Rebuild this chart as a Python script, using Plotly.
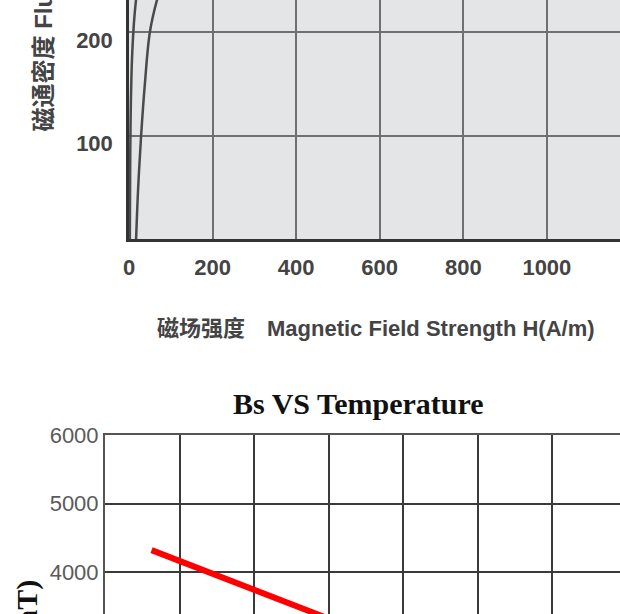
import plotly.graph_objects as go

# ---- Top chart: B-H magnetisation curves ----
h_curve_a = [2, 2.5, 3, 4, 6, 9, 13, 19]
b_curve_a = [0, 40, 80, 120, 160, 190, 215, 240]
h_curve_b = [17, 22, 29, 38, 50, 67, 90]
b_curve_b = [0, 50, 100, 150, 200, 231, 260]
h_ticks = [0, 200, 400, 600, 800, 1000, 1200]
b_ticks = [100, 200, 300]

# ---- Bottom chart: Bs vs temperature ----
temp_c = [25, 100, 130]
bs_val = [4320, 3530, 3215]
bs_ticks = [4000, 5000, 6000]

W, H = 620, 614

def px_x(p):
    return p / W

def px_y(p):
    return (H - p) / H

fig = go.Figure()
fig.add_trace(go.Scatter(x=h_curve_a, y=b_curve_a, mode='lines',
                         line=dict(color='#4a4a4a', width=2.5, shape='spline'),
                         xaxis='x', yaxis='y', showlegend=False))
fig.add_trace(go.Scatter(x=h_curve_b, y=b_curve_b, mode='lines',
                         line=dict(color='#4a4a4a', width=2.5, shape='spline'),
                         xaxis='x', yaxis='y', showlegend=False))
fig.add_trace(go.Scatter(x=temp_c, y=bs_val, mode='lines',
                         line=dict(color='#ff0000', width=6),
                         xaxis='x2', yaxis='y2', showlegend=False))

top_font = dict(family='Liberation Sans, Arial, sans-serif', size=22, color='#444444', weight='bold')
bot_tick_font = dict(family='Liberation Sans, Arial, sans-serif', size=22, color='#5a5a5a')

fig.update_layout(
    template='none',
    width=W, height=H,
    margin=dict(l=0, r=0, t=0, b=0, pad=0, autoexpand=False),
    paper_bgcolor='white',
    plot_bgcolor='white',
    xaxis=dict(domain=[px_x(129), 1], range=[0, 1175], anchor='y', automargin=False,
               tickmode='array', tickvals=h_ticks, ticktext=[str(v) for v in h_ticks],
               showgrid=True, gridcolor='#707070', gridwidth=1.5,
               showline=True, linecolor='#333333', linewidth=3,
               zeroline=False, ticks='', ticklabelstandoff=7, tickfont=top_font),
    yaxis=dict(domain=[px_y(239), 1], range=[0, 231], anchor='x', automargin=False,
               tickmode='array', tickvals=b_ticks, ticktext=[str(v) for v in b_ticks],
               showgrid=True, gridcolor='#707070', gridwidth=1.5,
               showline=True, linecolor='#333333', linewidth=2.5,
               zeroline=False, ticks='', ticklabelstandoff=9, ticklabelshift=8,
               tickfont=top_font),
    xaxis2=dict(domain=[px_x(105), 1], range=[0, 276.5], anchor='y2', side='top',
                automargin=False,
                dtick=40, tick0=0, showticklabels=False,
                showgrid=True, gridcolor='#3a3a3a', gridwidth=2,
                showline=True, linecolor='#555555', linewidth=2,
                zeroline=False, ticks=''),
    yaxis2=dict(domain=[0, px_y(435)], range=[3387, 6000], anchor='x2', automargin=False,
                tickmode='array', tickvals=bs_ticks, ticktext=[str(v) for v in bs_ticks],
                showgrid=True, gridcolor='#3a3a3a', gridwidth=2,
                showline=True, linecolor='#555555', linewidth=2,
                zeroline=False, ticks='', ticklabelstandoff=0, tickfont=bot_tick_font),
    shapes=[dict(type='rect', xref='x domain', yref='y domain', x0=0, x1=1, y0=0, y1=1,
                 fillcolor='#e4e5e7', line=dict(width=0), layer='below')],
    annotations=[
        dict(text='磁场强度\u2002\u2002Magnetic Field Strength H(A/m)', xref='paper', yref='paper',
             x=px_x(376), y=px_y(328), xanchor='center', yanchor='middle', showarrow=False,
             font=dict(family='Liberation Sans, Noto Sans CJK SC, sans-serif', size=22,
                       color='#444444', weight='bold')),
        dict(text='磁通密度 Flux Density B(mT)', xref='paper', yref='paper', textangle=-90,
             x=px_x(43), y=px_y(134), xanchor='center', yanchor='bottom', showarrow=False,
             font=dict(family='Liberation Sans, Noto Sans CJK SC, sans-serif', size=24,
                       color='#444444', weight='bold')),
        dict(text='Bs VS Temperature', xref='paper', yref='paper',
             x=px_x(358), y=px_y(403), xanchor='center', yanchor='middle', showarrow=False,
             font=dict(family='Liberation Serif, Times New Roman, serif', size=30,
                       color='#111111', weight='bold')),
        dict(text='Bs (mT)', xref='paper', yref='paper', textangle=-90,
             x=px_x(27), y=px_y(578), xanchor='center', yanchor='top', showarrow=False,
             font=dict(family='Liberation Serif, Times New Roman, serif', size=30,
                       color='#111111', weight='bold')),
    ],
)

fig.write_html("out.html", config={'displayModeBar': False},
               post_script="document.body.style.margin='0';document.body.style.overflow='hidden';")
